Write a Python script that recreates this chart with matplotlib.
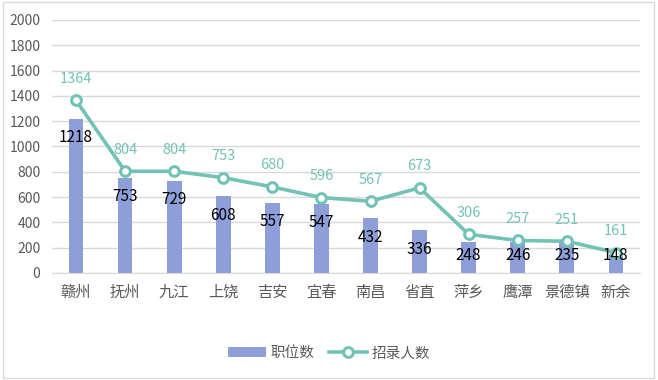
import numpy as np
import matplotlib
matplotlib.use('Agg')
from matplotlib import pyplot as plt
from matplotlib.patches import Rectangle

plt.rcParams['font.family'] = ['Noto Sans CJK SC', 'DejaVu Sans']

# data
cities = ['赣州', '抚州', '九江', '上饶', '吉安', '宜春', '南昌', '省直', '萍乡', '鹰潭', '景德镇', '新余']
posts = [1218, 753, 729, 608, 557, 547, 432, 336, 248, 246, 235, 148]
hires = [1364, 804, 804, 753, 680, 596, 567, 673, 306, 257, 251, 161]
yticks = list(range(0, 2001, 200))

bar_color = '#8E9ED8'
line_color = '#72C2B6'
grey = '#595959'

fig = plt.figure(figsize=(6.58, 3.80), dpi=100)
ax = fig.add_axes([0.0783, 0.2816, 0.895, 0.666])

x = np.arange(len(cities))
bars = ax.bar(x, posts, width=0.3, color=bar_color, zorder=2, label='职位数')
line, = ax.plot(x, hires, color=line_color, linewidth=2.6, marker='o', markersize=7,
                markerfacecolor='white', markeredgecolor=line_color, markeredgewidth=2.2,
                zorder=3, label='招录人数')

# labels
for i, v in enumerate(posts):
    ax.text(i, max(v - 150, 142), str(v), ha='center', va='center',
            fontsize=11, color='black', zorder=4)
for i, v in enumerate(hires):
    ax.annotate(str(v), (i, v), xytext=(0, 15.5), textcoords='offset points',
                ha='center', va='center', fontsize=10.5, color=line_color, zorder=4)

ax.set_xlim(-0.5, len(cities) - 0.5)
ax.set_ylim(0, 2000)
ax.set_yticks(yticks)
ax.set_xticks(x)
ax.set_xticklabels(cities, fontsize=11, color=grey)
ax.tick_params(axis='y', labelsize=10, colors=grey, length=0, pad=8)
ax.tick_params(axis='x', length=0, pad=8)
ax.grid(axis='y', color='#D9D9D9', linewidth=1, zorder=0)
for s in ['top', 'right', 'left']:
    ax.spines[s].set_visible(False)
ax.spines['bottom'].set_color('#D9D9D9')

leg = fig.legend([bars, line], ['职位数', '招录人数'], loc='center',
                 bbox_to_anchor=(0.5, 0.07), ncol=2, frameon=False,
                 fontsize=10.5, handlelength=2.6, columnspacing=1.0, handletextpad=0.3)
for t in leg.get_texts():
    t.set_color(grey)

# chart border
fig.patches.append(Rectangle((0.004, 0.006), 0.99, 0.988, transform=fig.transFigure,
                             fill=False, edgecolor='#D9D9D9', linewidth=1))

plt.savefig('out.png', dpi=100)
